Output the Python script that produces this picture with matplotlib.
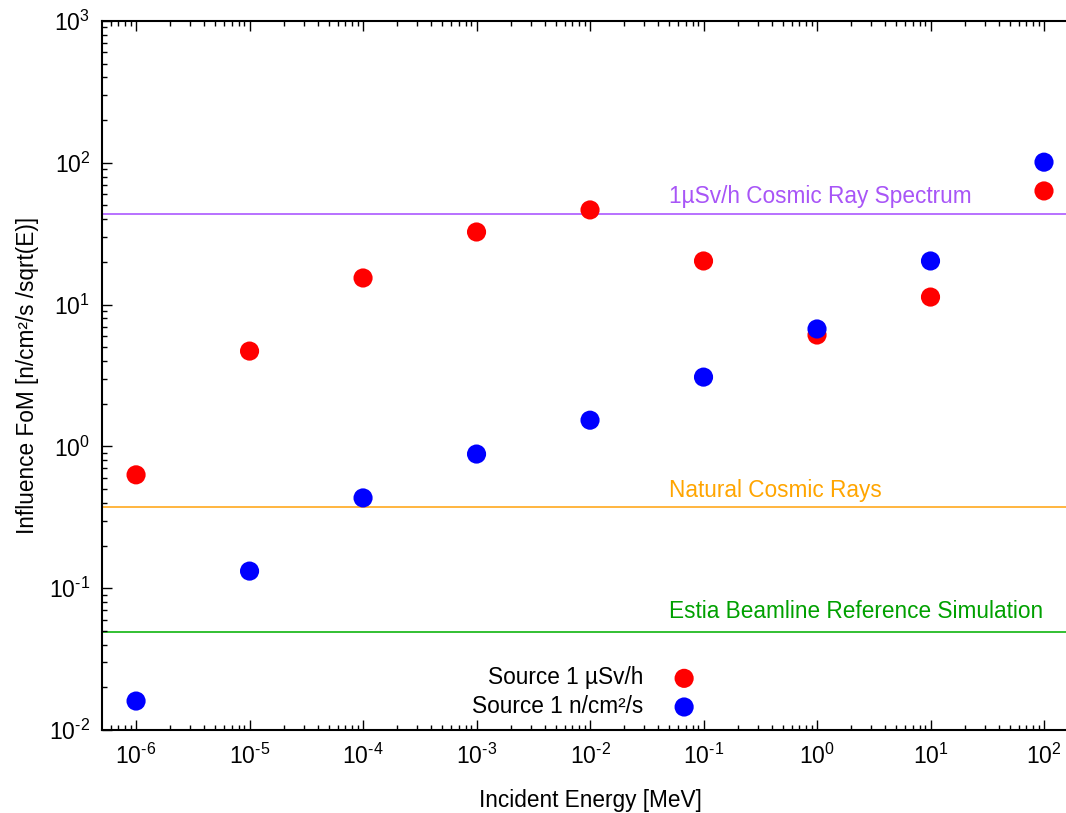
import math
import matplotlib
matplotlib.use('Agg')
import matplotlib.pyplot as plt
from matplotlib.ticker import FixedLocator, LogLocator, NullFormatter, FuncFormatter

plt.rcParams['font.family'] = ['Liberation Sans', 'DejaVu Sans']
plt.rcParams['mathtext.fontset'] = 'custom'
plt.rcParams['mathtext.rm'] = 'Liberation Sans'
plt.rcParams['mathtext.it'] = 'Liberation Sans:italic'

###data
energy = [1e-6, 1e-5, 1e-4, 1e-3, 1e-2, 1e-1, 1e0, 1e1, 1e2]  # MeV
fom_usv = [0.63, 4.7, 15.4, 32.5, 46.5, 20.3, 6.1, 11.3, 63.3]  # Source 1 uSv/h
fom_flux = [0.016, 0.132, 0.433, 0.883, 1.53, 3.08, 6.73, 20.3, 101]  # Source 1 n/cm2/s

x_exponents = [-6, -5, -4, -3, -2, -1, 0, 1, 2]
y_exponents = [-2, -1, 0, 1, 2, 3]

ref_names = ['1µSv/h Cosmic Ray Spectrum', 'Natural Cosmic Rays', 'Estia Beamline Reference Simulation']
ref_values = [43.5, 0.374, 0.049]
ref_line_colors = ['#b266ff', '#ffb030', '#22bb22']
ref_text_colors = ['#a855f7', '#ffa500', '#00a000']
ref_text_y = [52.1, 0.44, 0.0617]
ref_text_x = 0.05

fs = 16.3


def pow_label(v, pos):
    e = int(round(math.log10(v)))
    return r'$10^{\text{%d}}$' % e


###plot
fig = plt.figure(figsize=(10.66, 8.13), dpi=100)
ax = fig.add_axes([0.0957, 0.1021, 0.9156, 0.8721])

for val, lc, tc, ty, name in zip(ref_values, ref_line_colors, ref_text_colors, ref_text_y, ref_names):
    ax.axhline(val, color=lc, lw=1.3, zorder=1)
    ax.text(ref_text_x, ty, name, color=tc, fontsize=fs, va='baseline', ha='left')

ax.scatter(energy, fom_usv, s=190, c='#ff0000', edgecolors='none', label='Source 1 µSv/h', zorder=3)
ax.scatter(energy, fom_flux, s=190, c='#0000ff', edgecolors='none', label='Source 1 n/cm²/s', zorder=3)

ax.set_xscale('log')
ax.set_yscale('log')
ax.set_xlim(10**-6.3, 10**2.3)
ax.set_ylim(1e-2, 1e3)

ax.xaxis.set_major_locator(FixedLocator([10.0**e for e in x_exponents]))
ax.yaxis.set_major_locator(FixedLocator([10.0**e for e in y_exponents]))
ax.xaxis.set_minor_locator(LogLocator(base=10, subs=range(2, 10), numticks=20))
ax.yaxis.set_minor_locator(LogLocator(base=10, subs=range(2, 10), numticks=20))
ax.xaxis.set_major_formatter(FuncFormatter(pow_label))
ax.yaxis.set_major_formatter(FuncFormatter(pow_label))
ax.xaxis.set_minor_formatter(NullFormatter())
ax.yaxis.set_minor_formatter(NullFormatter())

ax.tick_params(which='both', direction='in', top=True, right=True, width=1.0, color='black')
ax.tick_params(which='major', length=7.5, labelsize=16.5)
ax.tick_params(which='minor', length=3.8)
ax.tick_params(axis='x', which='major', pad=10)
ax.tick_params(axis='y', which='major', pad=8.5)
for sp in ax.spines.values():
    sp.set_linewidth(1.5)

ax.set_xlabel('Incident Energy [MeV]', fontsize=fs, labelpad=14.5)
ax.set_ylabel('Influence FoM [n/cm²/s /sqrt(E)]', fontsize=fs, labelpad=7)

ax.legend(loc='lower right', bbox_to_anchor=(0.608, 0.017), markerfirst=False, frameon=False,
          fontsize=fs, borderpad=0, borderaxespad=0, handletextpad=1.3, labelspacing=0.25,
          handlelength=1.0, scatterpoints=1)

plt.savefig('out.png', dpi=100)
